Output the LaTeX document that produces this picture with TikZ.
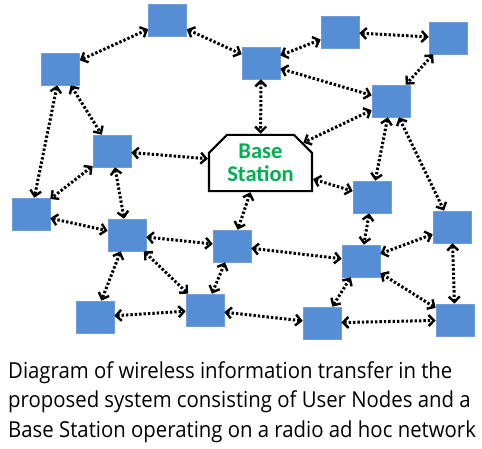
\documentclass[tikz,border=0pt]{standalone}
\usepackage{fontspec}
\setmainfont{Open Sans}
\newfontfamily\basefont{Carlito}
\usetikzlibrary{arrows.meta,shapes.misc}
\definecolor{boxblue}{RGB}{85,142,213}
\definecolor{bsgreen}{RGB}{0,176,80}
\newcommand{\captext}[1]{\scalebox{0.925}[1]{#1}}
\begin{document}
\begin{tikzpicture}[x=1pt,y=-1pt,
  unode/.style={rectangle,fill=boxblue,draw=boxblue!85!white,line width=0.6pt,minimum width=38pt,minimum height=32pt,inner sep=0pt},
  bstation/.style={chamfered rectangle,chamfered rectangle corners={north west,north east},chamfered rectangle xsep=9pt,chamfered rectangle ysep=9pt,draw=black,line width=2.2pt,fill=white,minimum width=103pt,minimum height=54pt,inner sep=0pt,align=center,font=\basefont\bfseries\fontsize{22.5}{23.5}\selectfont,text=bsgreen},
  link/.style={{Straight Barb[length=5.5pt,width=11pt,line width=2.4pt]}-{Straight Barb[length=5.5pt,width=11pt,line width=2.4pt]},line width=3pt,dash pattern=on 2.4pt off 2pt,black},
  caption/.style={anchor=base west,inner sep=0pt,font=\fontsize{22}{29}\selectfont}]
\useasboundingbox (0,0) rectangle (482,448);
\node[unode] (n1) at (167.5,20.5) {};
\node[unode] (n2) at (60.5,69) {};
\node[unode] (n3) at (112,151) {};
\node[unode] (n4) at (261,63) {};
\node[unode] (n5) at (340,32) {};
\node[unode] (n6) at (448,38) {};
\node[unode] (n7) at (391,101) {};
\node[unode] (n8) at (31,214) {};
\node[unode] (n9) at (127,235) {};
\node[unode] (n10) at (232,246) {};
\node[unode] (n11) at (95,317) {};
\node[unode] (n12) at (205,310) {};
\node[unode] (n13) at (372,197) {};
\node[unode] (n14) at (452,227) {};
\node[unode] (n15) at (361,261) {};
\node[unode] (n16) at (322,323) {};
\node[unode] (n17) at (455,320) {};
\node[bstation] (bs) at (260.5,163) {Base\\Station};
\draw[link] (n1) -- (n2);
\draw[link] (n1) -- (n4);
\draw[link] (n2) -- (n3);
\draw[link] (n2) -- (n8);
\draw[link] (n3) -- (n8);
\draw[link] (n3) -- (bs);
\draw[link] (n3) -- (n9);
\draw[link] (n4) -- (n5);
\draw[link] (n4) -- (bs);
\draw[link] (n4) -- (n7);
\draw[link] (n5) -- (n6);
\draw[link] (n6) -- (n7);
\draw[link] (n7) -- (bs);
\draw[link] (n7) -- (n13);
\draw[link] (n7) -- (n14);
\draw[link] (bs) -- (n13);
\draw[link] (bs) -- (n10);
\draw[link] (n8) -- (n9);
\draw[link] (n9) -- (n10);
\draw[link] (n9) -- (n11);
\draw[link] (n9) -- (n12);
\draw[link] (n10) -- (n12);
\draw[link] (n10) -- (n15);
\draw[link] (n11) -- (n12);
\draw[link] (n12) -- (n16);
\draw[link] (n13) -- (n15);
\draw[link] (n14) -- (n15);
\draw[link] (n14) -- (n17);
\draw[link] (n15) -- (n16);
\draw[link] (n15) -- (n17);
\draw[link] (n16) -- (n17);
\node[caption] (c1) at (8,378) {\captext{Diagram of wireless information transfer in the}};
\node[caption] (c2) at (8,407.5) {\captext{proposed system consisting of User Nodes and a}};
\node[caption] (c3) at (8,437) {\captext{Base Station operating on a radio ad hoc network}};
\end{tikzpicture}
\end{document}
